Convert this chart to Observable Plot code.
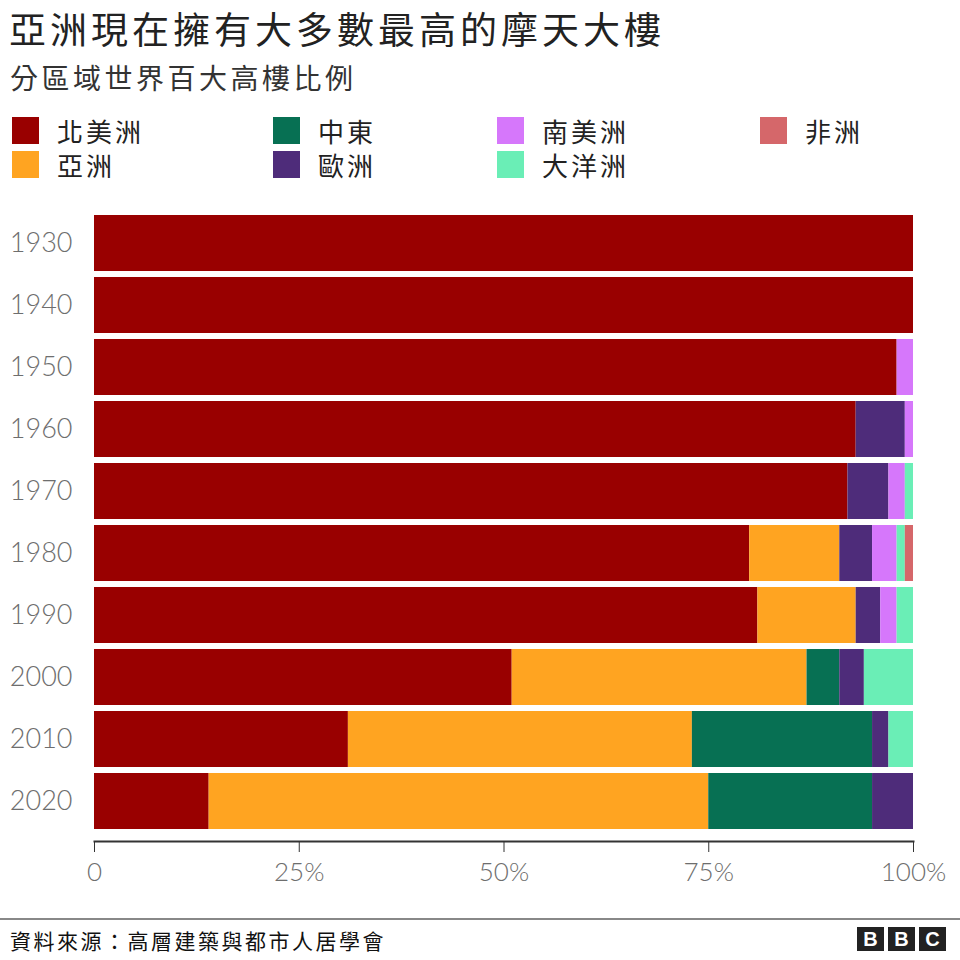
<!DOCTYPE html>
<html>
<head>
<meta charset="utf-8">
<script src="https://cdn.jsdelivr.net/npm/d3@7"></script>
<script src="https://cdn.jsdelivr.net/npm/@observablehq/plot@0.6"></script>
<style>
  html, body { margin: 0; padding: 0; background: #fff; }
  #root { position: relative; width: 960px; height: 960px; overflow: hidden; font-family: "Noto Sans CJK TC", "Noto Sans", sans-serif; }
  .abs { position: absolute; white-space: nowrap; }
  #title { left: 9px; top: 3px; font-size: 37px; font-weight: 400; letter-spacing: 4px; color: #222; line-height: 50px; }
  #subtitle { left: 10px; top: 58px; font-size: 28px; letter-spacing: 3.5px; color: #333; line-height: 38px; }
  .sw { position: absolute; width: 27px; height: 27px; }
  .lt { position: absolute; font-size: 26px; letter-spacing: 3px; color: #222; line-height: 28px; }
  #chart { position: absolute; left: 0; top: 200px; }
  #footline { left: 0; top: 918px; width: 960px; height: 2px; background: #888; }
  #source { left: 10px; top: 925px; font-size: 21px; letter-spacing: 2.5px; color: #111; line-height: 30px; }
  .bbc { position: absolute; top: 927px; width: 27px; height: 24px; background: #222; color: #fff; font-family: "Liberation Sans", Arial, sans-serif; font-weight: bold; font-size: 20px; line-height: 24px; text-align: center; }
  #chart svg text { font-family: Lato, "Noto Sans", sans-serif; font-weight: 300; }
</style>
</head>
<body>
<div id="root">
  <div id="title" class="abs">亞洲現在擁有大多數最高的摩天大樓</div>
  <div id="subtitle" class="abs">分區域世界百大高樓比例</div>
  <div id="legend"></div>
  <div id="chart"></div>
  <div id="footline" class="abs"></div>
  <div id="source" class="abs">資料來源：高層建築與都市人居學會</div>
  <div class="bbc" style="left:857px">B</div>
  <div class="bbc" style="left:888px">B</div>
  <div class="bbc" style="left:919px">C</div>
</div>
<script>
// ---- Data (percent share of world's 100 tallest buildings by region) ----
const years = ["1930", "1940", "1950", "1960", "1970", "1980", "1990", "2000", "2010", "2020"];
const regions = ["北美洲", "亞洲", "中東", "歐洲", "南美洲", "大洋洲", "非洲"];
const colors  = ["#990000", "#FFA421", "#077053", "#4E2C7A", "#D677FB", "#6AEEB6", "#D5676A"];

const northAmerica = [100, 100, 98, 93, 92, 80, 81, 51, 31, 14];
const asia         = [0, 0, 0, 0, 0, 11, 12, 36, 42, 61];
const middleEast   = [0, 0, 0, 0, 0, 0, 0, 4, 22, 20];
const europe       = [0, 0, 0, 6, 5, 4, 3, 3, 2, 5];
const southAmerica = [0, 0, 2, 1, 2, 3, 2, 0, 0, 0];
const oceania      = [0, 0, 0, 0, 1, 1, 2, 6, 3, 0];
const africa       = [0, 0, 0, 0, 0, 1, 0, 0, 0, 0];

const xTicks = [0, 25, 50, 75, 100];

// legend layout order (two rows)
const legendOrder = ["北美洲", "中東", "南美洲", "非洲", "亞洲", "歐洲", "大洋洲"];

const series = [northAmerica, asia, middleEast, europe, southAmerica, oceania, africa];
const data = [];
years.forEach((y, i) => {
  regions.forEach((r, j) => {
    if (series[j][i] > 0) data.push({year: y, region: r, value: series[j][i]});
  });
});

// ---- Legend ----
const legend = document.getElementById("legend");
const colX = [12, 273, 497, 760];
const rowY = [117, 151];
legendOrder.forEach((r, k) => {
  const col = k < 4 ? k : k - 4;
  const row = k < 4 ? 0 : 1;
  const sw = document.createElement("div");
  sw.className = "sw";
  sw.style.left = colX[col] + "px";
  sw.style.top = rowY[row] + "px";
  sw.style.background = colors[regions.indexOf(r)];
  legend.appendChild(sw);
  const t = document.createElement("div");
  t.className = "lt";
  t.style.left = (colX[col] + 45) + "px";
  t.style.top = rowY[row] + "px";
  t.textContent = r;
  legend.appendChild(t);
});

// ---- Chart ----
const fmt = d => d === 0 ? "0" : d + "%";
const chart = Plot.plot({
  width: 960,
  height: 700,
  marginTop: 8,
  marginBottom: 59,
  marginLeft: 94,
  marginRight: 47,
  style: {fontSize: "26px", color: "#6e6e6e", background: "transparent"},
  x: {domain: [0, 100], ticks: xTicks, tickFormat: fmt},
  y: {domain: years, padding: 0.094, insetBottom: 4},
  color: {domain: regions, range: colors},
  marks: [
    Plot.barX(data, Plot.stackX({x: "value", y: "year", fill: "region", order: regions})),
    Plot.frame({anchor: "bottom", stroke: "#333", strokeWidth: 2}),
    Plot.axisX({ticks: xTicks, tickFormat: fmt, tickSize: 11, tickPadding: 10, stroke: "#333", fill: "#6e6e6e", fontSize: 26, label: null}),
    Plot.axisY({tickSize: 0, tickPadding: 22, fill: "#6e6e6e", fontSize: 27, label: null})
  ]
});
document.getElementById("chart").appendChild(chart);
</script>
</body>
</html>
